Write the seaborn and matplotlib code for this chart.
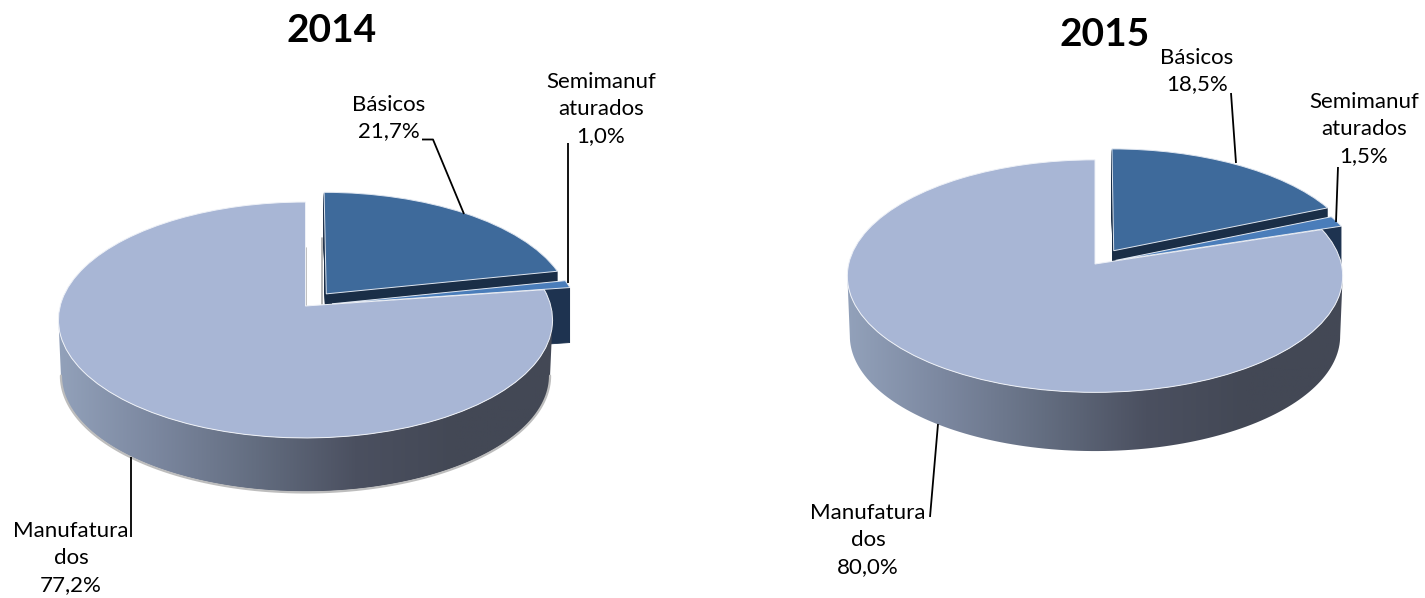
import numpy as np
import matplotlib
matplotlib.use('Agg')
import matplotlib.pyplot as plt
from matplotlib.patches import Polygon
from matplotlib.transforms import Transform
import seaborn as sns

# data
years = ['2014', '2015']
categories_2014 = ['Básicos', 'Semimanuf\naturados', 'Manufatura\ndos']
categories_2015 = ['Básicos', 'Semimanuf\naturados', 'Manufatura\ndos']
values_2014 = [21.7, 1.0, 77.2]
values_2015 = [18.5, 1.5, 80.0]

top_colors = ['#3e6a9b', '#4a7dba', '#a8b6d5']
side_colors = ['#1a2e47', '#1e3350']
side_ramp = ['#93a2bb', '#7b879f', '#636d80', '#4b5060', '#434855', '#434855']

sns.set_style('white')
plt.rcParams['font.family'] = ['Lato', 'DejaVu Sans']
plt.rcParams['text.color'] = 'black'


class Perspective(Transform):
    # unit pie -> pixels, tilted so the back of the pie looks smaller
    input_dims = 2
    output_dims = 2
    has_inverse = False

    def __init__(self, cx, cy, rx, ry, k, dy=0.0):
        super().__init__()
        self.cx, self.cy, self.rx, self.ry, self.k, self.dy = cx, cy, rx, ry, k, dy

    def transform_non_affine(self, xy):
        xy = np.asarray(xy, dtype=float)
        w = 1 + self.k * xy[:, 1]
        return np.column_stack((self.cx + self.rx * xy[:, 0] / w,
                                self.cy - self.ry * xy[:, 1] / w + self.dy))


fig = plt.figure(figsize=(14.25, 5.98), dpi=100)
ax = fig.add_axes([0, 0, 1, 1])


def draw_pie(values, explode, geo, depth, rim=False):
    cx, cy, rx, ry, k = geo
    order = 1

    # the two small slices: dark extrusion first, top face after
    for i in range(2):
        for d in range(depth, 0, -1):
            wedges, _ = ax.pie(values, explode=explode, startangle=90, counterclock=False,
                               colors=[side_colors[i]] * 3, frame=False,
                               wedgeprops={'edgecolor': side_colors[i], 'linewidth': 0.6})
            for j, w in enumerate(wedges):
                if j == i:
                    w.set_transform(Perspective(cx, cy, rx, ry, k, d) + ax.transData)
                    w.set_zorder(order)
                else:
                    w.remove()
        order += 1
        wedges, _ = ax.pie(values, explode=explode, startangle=90, counterclock=False,
                           colors=top_colors, frame=False,
                           wedgeprops={'edgecolor': '#dfe6f0', 'linewidth': 0.7})
        for j, w in enumerate(wedges):
            if j == i:
                w.set_transform(Perspective(cx, cy, rx, ry, k) + ax.transData)
                w.set_zorder(order)
            else:
                w.remove()
        order += 1

    # wall of the big slice, a ramp from left to right clipped to the band
    t0 = np.arcsin(k)
    t = np.linspace(t0, np.pi - t0, 120)
    upper = np.column_stack((np.cos(t), -np.sin(t)))
    top_edge = Perspective(cx, cy, rx, ry, k).transform_non_affine(upper)
    low_edge = Perspective(cx, cy, rx * 0.99, ry * 0.99, k, depth).transform_non_affine(upper)
    band = Polygon(np.vstack((top_edge, low_edge[::-1])), closed=True, transform=ax.transData,
                   facecolor='none', edgecolor='none')
    ax.add_patch(band)
    ramp = sns.blend_palette(side_ramp, as_cmap=True)
    x0, x1 = cx + rx * 1.02, cx - rx * 1.02
    im = ax.imshow(np.linspace(0, 1, 256).reshape(1, -1), cmap=ramp, aspect='auto',
                   extent=(x1, x0, cy + ry * 1.5 + depth, cy - ry * 0.2), zorder=order)
    im.set_clip_path(band)
    if rim:
        ax.plot(low_edge[:, 0], low_edge[:, 1] + 0.8, color='#bdbdbd', lw=1.6, zorder=order)
    order += 1

    # big slice on top
    wedges, _ = ax.pie(values, explode=explode, startangle=90, counterclock=False,
                       colors=top_colors, frame=False,
                       wedgeprops={'edgecolor': '#eef1f7', 'linewidth': 0.7})
    for j, w in enumerate(wedges):
        if j == 2:
            w.set_transform(Perspective(cx, cy, rx, ry, k) + ax.transData)
            w.set_zorder(order)
        else:
            w.remove()


draw_pie(values_2014, [0.136, 0.11, 0], (305.5, 306, 245.3, 116.3, 0.1186), 55, rim=True)
draw_pie(values_2015, [0.14, 0.09, 0], (1095, 264, 246.3, 115.0, 0.104), 60)

# faint inner edges next to the gap
ax.plot([306.5, 306.5], [248, 306], color='#b5b5b5', lw=1.2, zorder=0.5)
ax.plot([322.5, 322.5], [238, 304], color='#a9a9a9', lw=1.2, zorder=0.5)
ax.plot([1113.5, 1113.5], [150, 262], color='#22354f', lw=0.8, zorder=0.5)


def lab(cat, val):
    return cat + '\n' + f'{val:.1f}%'.replace('.', ',')


label_font = 16.0
label_pos_2014 = [(389, 118), (601, 109), (71, 558)]
label_pos_2015 = [(1197, 71), (1364, 129), (868, 540)]
for cats, vals, pos in [(categories_2014, values_2014, label_pos_2014),
                        (categories_2015, values_2015, label_pos_2015)]:
    for c, v, p in zip(cats, vals, pos):
        ax.text(p[0], p[1], lab(c, v), ha='center', va='center', fontsize=label_font,
                linespacing=1.42, color='black', zorder=30)

# leader lines
leaders = [
    ([422, 433, 464], [139.5, 139.5, 214]),
    ([568, 568], [143, 283]),
    ([131, 131], [457, 537]),
    ([1231, 1236], [93, 163]),
    ([1338, 1336], [167, 222]),
    ([930, 938], [517, 424]),
]
for lx, ly in leaders:
    ax.plot(lx, ly, color='black', lw=1.3, zorder=31, solid_capstyle='butt')

ax.text(332, 30, years[0], ha='center', va='center', fontsize=28, fontweight='bold', zorder=30)
ax.text(1105, 34, years[1], ha='center', va='center', fontsize=28, fontweight='bold', zorder=30)

ax.set_aspect('auto')
ax.set_xlim(0, 1425)
ax.set_ylim(598, 0)
ax.axis('off')

fig.savefig('out.png', dpi=100)
